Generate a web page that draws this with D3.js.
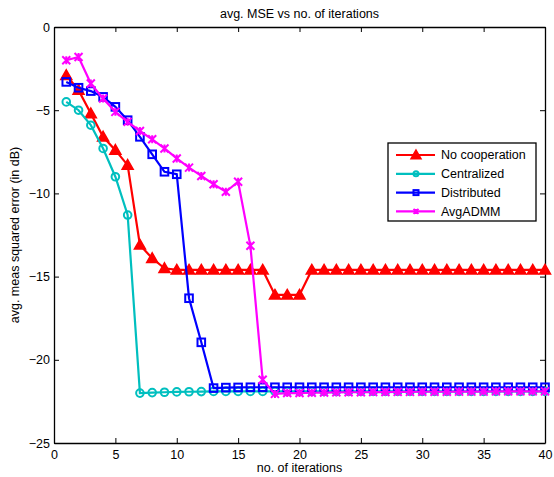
<!DOCTYPE html>
<html>
<head>
<meta charset="utf-8">
<script src="https://cdn.jsdelivr.net/npm/d3@7"></script>
<style>
  body { margin: 0; background: #fff; }
  text { font-family: "Liberation Sans", Arial, sans-serif; fill: #000; }
</style>
</head>
<body>
<div id="chart"></div>
<script>
// iterations 1..40
var iterations = d3.range(1, 41);

var noCooperation = [-2.9, -3.8, -5.2, -6.6, -7.4, -8.3, -13.1, -13.9, -14.5, -14.6,
  -14.6, -14.6, -14.6, -14.6, -14.6, -14.6, -14.6, -16.1, -16.1, -16.1,
  -14.6, -14.6, -14.6, -14.6, -14.6, -14.6, -14.6, -14.6, -14.6, -14.6,
  -14.6, -14.6, -14.6, -14.6, -14.6, -14.6, -14.6, -14.6, -14.6, -14.6];

var centralized = [-4.5, -5.0, -5.9, -7.3, -9.0, -11.3, -22.0, -21.97, -21.95, -21.93,
  -21.92, -21.91, -21.9, -21.9, -21.9, -21.9, -21.9, -21.9, -21.9, -21.9,
  -21.9, -21.9, -21.9, -21.9, -21.9, -21.9, -21.9, -21.9, -21.9, -21.9,
  -21.9, -21.9, -21.9, -21.9, -21.9, -21.9, -21.9, -21.9, -21.9, -21.9];

var distributed = [-3.3, -3.65, -3.85, -4.2, -4.8, -5.6, -6.6, -7.65, -8.7, -8.85,
  -16.3, -18.95, -21.7, -21.67, -21.66, -21.65, -21.65, -21.65, -21.65, -21.65,
  -21.65, -21.65, -21.65, -21.65, -21.65, -21.65, -21.65, -21.65, -21.65, -21.65,
  -21.65, -21.65, -21.65, -21.65, -21.65, -21.65, -21.65, -21.65, -21.65, -21.65];

var avgADMM = [-2.0, -1.8, -3.4, -4.3, -5.1, -5.7, -6.25, -6.75, -7.3, -7.9,
  -8.45, -8.95, -9.45, -9.9, -9.3, -13.15, -21.2, -22.05, -22.0, -22.0,
  -21.98, -21.97, -21.96, -21.95, -21.95, -21.94, -21.94, -21.93, -21.93, -21.92,
  -21.92, -21.92, -21.91, -21.91, -21.91, -21.9, -21.9, -21.9, -21.9, -21.9];

var seriesNames = ["No cooperation", "Centralized", "Distributed", "AvgADMM"];
var seriesColors = ["#ff0000", "#00bfbf", "#0000ff", "#ff00ff"];
var seriesMarkers = ["triangle", "circle", "square", "cross"];
var seriesValues = [noCooperation, centralized, distributed, avgADMM];

var xTicks = [0, 5, 10, 15, 20, 25, 30, 35, 40];
var yTicks = [0, -5, -10, -15, -20, -25];

var width = 554, height = 477;
var margin = {left: 54, top: 27, right: 9, bottom: 34};

var svg = d3.select("#chart").append("svg")
    .attr("width", width)
    .attr("height", height);

var x = d3.scaleLinear().domain([0, 40]).range([margin.left, width - margin.right]);
var y = d3.scaleLinear().domain([-25, 0]).range([height - margin.bottom, margin.top]);

// axes with ticks pointing inward
var fmt = function(d) { return d < 0 ? "\u2212" + Math.abs(d) : d; };

svg.append("g")
    .attr("transform", "translate(0," + y(-25) + ")")
    .call(d3.axisBottom(x).tickValues(xTicks).tickSizeInner(-5).tickSizeOuter(0).tickPadding(6))
    .call(function(g) { g.selectAll("text").attr("dy", "0.71em").attr("y", 7); });

svg.append("g")
    .attr("transform", "translate(0," + y(0) + ")")
    .call(d3.axisTop(x).tickValues(xTicks).tickSizeInner(-5).tickSizeOuter(0).tickFormat(""));

svg.append("g")
    .attr("transform", "translate(" + x(0) + ",0)")
    .call(d3.axisLeft(y).tickValues(yTicks).tickSizeInner(-5).tickSizeOuter(0).tickPadding(4).tickFormat(fmt));

svg.append("g")
    .attr("transform", "translate(" + x(40) + ",0)")
    .call(d3.axisRight(y).tickValues(yTicks).tickSizeInner(-5).tickSizeOuter(0).tickFormat(""));

svg.selectAll(".domain").attr("stroke", "#000").attr("stroke-width", 1.3);
svg.selectAll(".tick line").attr("stroke", "#000");
svg.selectAll(".tick text")
    .style("font-family", "'Liberation Sans', Arial, sans-serif")
    .style("font-size", "12.5px")
    .attr("fill", "#000");

// lines and markers
var line = d3.line()
    .x(function(d, i) { return x(iterations[i]); })
    .y(function(d) { return y(d); });

var markerSize = { triangle: 5.5, circle: 3.8, square: 3.8, cross: 4 };

function drawMarker(g, type, color, cx, cy) {
  var s = markerSize[type];
  if (type === "triangle") {
    g.append("path")
      .attr("d", "M" + cx + "," + (cy - s) + "L" + (cx + s) + "," + (cy + s * 0.75) + "L" + (cx - s) + "," + (cy + s * 0.75) + "Z")
      .attr("fill", color).attr("stroke", color).attr("stroke-width", 1.5);
  } else if (type === "circle") {
    g.append("circle").attr("cx", cx).attr("cy", cy).attr("r", s)
      .attr("fill", "none").attr("stroke", color).attr("stroke-width", 2);
  } else if (type === "square") {
    g.append("rect").attr("x", cx - s).attr("y", cy - s).attr("width", 2 * s).attr("height", 2 * s)
      .attr("fill", "none").attr("stroke", color).attr("stroke-width", 2);
  } else {
    g.append("path")
      .attr("d", "M" + (cx - s) + "," + (cy - s) + "L" + (cx + s) + "," + (cy + s) +
                 "M" + (cx - s) + "," + (cy + s) + "L" + (cx + s) + "," + (cy - s) +
                 "M" + cx + "," + (cy - s) + "L" + cx + "," + (cy + s))
      .attr("fill", "none").attr("stroke", color).attr("stroke-width", 2);
  }
}

seriesValues.forEach(function(vals, k) {
  var g = svg.append("g");
  g.append("path")
    .datum(vals)
    .attr("d", line)
    .attr("fill", "none")
    .attr("stroke", seriesColors[k])
    .attr("stroke-width", 2.2);
  vals.forEach(function(v, i) {
    drawMarker(g, seriesMarkers[k], seriesColors[k], x(iterations[i]), y(v));
  });
});

// title and axis labels
svg.append("text")
    .attr("x", (x(0) + x(40)) / 2)
    .attr("y", 18)
    .attr("text-anchor", "middle")
    .style("font-size", "12.5px")
    .text("avg. MSE vs no. of iterations");

svg.append("text")
    .attr("x", (x(0) + x(40)) / 2)
    .attr("y", 472)
    .attr("text-anchor", "middle")
    .style("font-size", "12.5px")
    .text("no. of iterations");

svg.append("text")
    .attr("transform", "translate(19," + ((y(0) + y(-25)) / 2) + ") rotate(-90)")
    .attr("text-anchor", "middle")
    .style("font-size", "12.5px")
    .text("avg. meas squared error (in dB)");

// legend
var legend = svg.append("g").attr("transform", "translate(388,143)");
legend.append("rect")
    .attr("width", 148).attr("height", 78)
    .attr("fill", "#fff").attr("stroke", "#000").attr("stroke-width", 1.3);

seriesNames.forEach(function(name, k) {
  var ly = 12 + k * 18.8;
  legend.append("line")
    .attr("x1", 8).attr("x2", 47).attr("y1", ly).attr("y2", ly)
    .attr("stroke", seriesColors[k]).attr("stroke-width", 2.2);
  var saved = markerSize[seriesMarkers[k]];
  markerSize[seriesMarkers[k]] = seriesMarkers[k] === "triangle" ? 5 : 2.5;
  drawMarker(legend, seriesMarkers[k], seriesColors[k], 28, ly);
  markerSize[seriesMarkers[k]] = saved;
  legend.append("text")
    .attr("x", 53).attr("y", ly)
    .attr("dy", "0.35em")
    .style("font-size", "12.5px")
    .text(name);
});
</script>
</body>
</html>
